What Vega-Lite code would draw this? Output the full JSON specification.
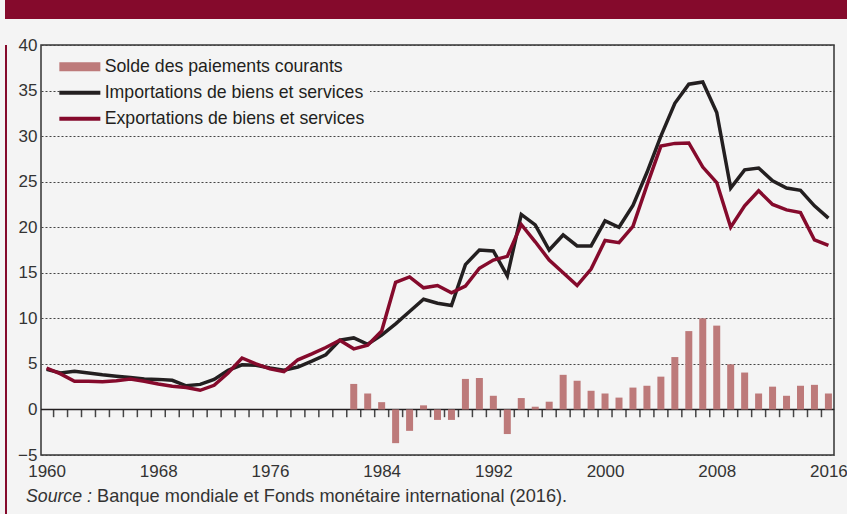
{
 "$schema": "https://vega.github.io/schema/vega-lite/v6.json",
 "background": "#f4f4f4",
 "padding": {"left": 5, "top": 0, "right": 0, "bottom": 0},
 "spacing": 0,
 "config": {"view": {"stroke": null}, "font": "Liberation Sans"},
 "datasets": {
  "imp": [
   {"year":1960,"value":4.4},{"year":1961,"value":4.0},{"year":1962,"value":4.2},{"year":1963,"value":4.0},{"year":1964,"value":3.8},
   {"year":1965,"value":3.65},{"year":1966,"value":3.5},{"year":1967,"value":3.35},{"year":1968,"value":3.3},{"year":1969,"value":3.2},
   {"year":1970,"value":2.6},{"year":1971,"value":2.75},{"year":1972,"value":3.3},{"year":1973,"value":4.3},{"year":1974,"value":4.9},
   {"year":1975,"value":4.85},{"year":1976,"value":4.55},{"year":1977,"value":4.3},{"year":1978,"value":4.65},{"year":1979,"value":5.3},
   {"year":1980,"value":6.0},{"year":1981,"value":7.6},{"year":1982,"value":7.85},{"year":1983,"value":7.15},{"year":1984,"value":8.15},
   {"year":1985,"value":9.4},{"year":1986,"value":10.75},{"year":1987,"value":12.1},{"year":1988,"value":11.65},{"year":1989,"value":11.4},
   {"year":1990,"value":15.9},{"year":1991,"value":17.5},{"year":1992,"value":17.4},{"year":1993,"value":14.65},{"year":1994,"value":21.4},
   {"year":1995,"value":20.25},{"year":1996,"value":17.5},{"year":1997,"value":19.15},{"year":1998,"value":17.95},{"year":1999,"value":17.95},
   {"year":2000,"value":20.7},{"year":2001,"value":20.0},{"year":2002,"value":22.4},{"year":2003,"value":26.0},{"year":2004,"value":30.0},
   {"year":2005,"value":33.6},{"year":2006,"value":35.7},{"year":2007,"value":35.95},{"year":2008,"value":32.6},{"year":2009,"value":24.3},
   {"year":2010,"value":26.3},{"year":2011,"value":26.5},{"year":2012,"value":25.1},{"year":2013,"value":24.3},{"year":2014,"value":24.05},
   {"year":2015,"value":22.35},{"year":2016,"value":21.0}
  ],
  "exp": [
   {"year":1960,"value":4.55},{"year":1961,"value":3.9},{"year":1962,"value":3.1},{"year":1963,"value":3.1},{"year":1964,"value":3.05},
   {"year":1965,"value":3.15},{"year":1966,"value":3.35},{"year":1967,"value":3.1},{"year":1968,"value":2.8},{"year":1969,"value":2.55},
   {"year":1970,"value":2.4},{"year":1971,"value":2.1},{"year":1972,"value":2.65},{"year":1973,"value":4.0},{"year":1974,"value":5.65},
   {"year":1975,"value":5.0},{"year":1976,"value":4.45},{"year":1977,"value":4.15},{"year":1978,"value":5.45},{"year":1979,"value":6.1},
   {"year":1980,"value":6.8},{"year":1981,"value":7.6},{"year":1982,"value":6.65},{"year":1983,"value":7.05},{"year":1984,"value":8.6},
   {"year":1985,"value":13.95},{"year":1986,"value":14.55},{"year":1987,"value":13.35},{"year":1988,"value":13.6},{"year":1989,"value":12.8},
   {"year":1990,"value":13.55},{"year":1991,"value":15.5},{"year":1992,"value":16.4},{"year":1993,"value":16.8},{"year":1994,"value":20.3},
   {"year":1995,"value":18.4},{"year":1996,"value":16.4},{"year":1997,"value":15.0},{"year":1998,"value":13.6},{"year":1999,"value":15.4},
   {"year":2000,"value":18.55},{"year":2001,"value":18.3},{"year":2002,"value":20.1},{"year":2003,"value":24.6},{"year":2004,"value":28.9},
   {"year":2005,"value":29.2},{"year":2006,"value":29.25},{"year":2007,"value":26.6},{"year":2008,"value":24.9},{"year":2009,"value":20.0},
   {"year":2010,"value":22.35},{"year":2011,"value":24.0},{"year":2012,"value":22.5},{"year":2013,"value":21.9},{"year":2014,"value":21.6},
   {"year":2015,"value":18.6},{"year":2016,"value":18.0}
  ],
  "solde": [
   {"year":1982,"value":2.8},{"year":1983,"value":1.75},{"year":1984,"value":0.8},{"year":1985,"value":-3.7},{"year":1986,"value":-2.35},
   {"year":1987,"value":0.45},{"year":1988,"value":-1.15},{"year":1989,"value":-1.15},{"year":1990,"value":3.35},{"year":1991,"value":3.45},
   {"year":1992,"value":1.5},{"year":1993,"value":-2.7},{"year":1994,"value":1.25},{"year":1995,"value":0.3},{"year":1996,"value":0.85},
   {"year":1997,"value":3.8},{"year":1998,"value":3.15},{"year":1999,"value":2.05},{"year":2000,"value":1.75},{"year":2001,"value":1.3},
   {"year":2002,"value":2.4},{"year":2003,"value":2.6},{"year":2004,"value":3.6},{"year":2005,"value":5.75},{"year":2006,"value":8.6},
   {"year":2007,"value":10.0},{"year":2008,"value":9.2},{"year":2009,"value":4.95},{"year":2010,"value":4.05},{"year":2011,"value":1.75},
   {"year":2012,"value":2.5},{"year":2013,"value":1.5},{"year":2014,"value":2.6},{"year":2015,"value":2.7},{"year":2016,"value":1.75}
  ]
 },
 "vconcat": [
  {
   "width": 842, "height": 19,
   "view": {"fill": "#850a2c", "stroke": null},
   "data": {"values": [{}]},
   "mark": {"type": "text"},
   "encoding": {"text": {"value": ""}}
  },
  {
   "spacing": 9,
   "hconcat": [
    {
     "width": 2, "height": 495,
     "view": {"fill": "#850a2c", "stroke": null},
     "data": {"values": [{}]},
     "mark": {"type": "text"},
     "encoding": {"text": {"value": ""}}
    },
    {
     "width": 793, "height": 410,
     "title": {"text": " ", "fontSize": 16, "offset": 0},
     "view": {"stroke": "#333", "strokeWidth": 1.5},
     "layer": [
      {
       "data": {"name": "imp"},
       "transform": [{"filter": "datum.year <= 2015"}],
       "mark": {"type": "rule", "xOffset": 7, "color": "#444", "strokeWidth": 1.5},
       "encoding": {
        "x": {"field": "year", "type": "quantitative", "title": null,
              "scale": {"domain": [1959.6, 2016.4], "nice": false, "zero": false, "padding": 0},
              "axis": {"values": [1960,1968,1976,1984,1992,2000,2008,2016], "format": "d", "ticks": false, "domain": false, "grid": false,
                       "labelFontSize": 17, "labelColor": "#333", "labelPadding": 8, "labelFlush": false}},
        "y": {"datum": 0, "type": "quantitative", "title": null,
              "scale": {"domain": [-5, 40], "nice": false},
              "axis": {"values": [-5,0,5,10,15,20,25,30,35,40], "grid": true, "gridDash": [2,2], "gridColor": "#444", "gridWidth": 1,
                       "ticks": false, "domain": false, "labelFontSize": 17, "labelColor": "#333", "labelPadding": 4}},
        "y2": {"datum": -0.85}
       }
      },
      {
       "data": {"values": [{}]},
       "mark": {"type": "rule", "color": "#231f20", "strokeWidth": 1.5},
       "encoding": {"y": {"datum": 0, "type": "quantitative", "title": null}}
      },
      {
       "data": {"name": "solde"},
       "transform": [{"calculate": "'Solde des paiements courants'", "as": "series"}],
       "mark": {"type": "bar", "size": 7},
       "encoding": {
        "x": {"field": "year", "type": "quantitative", "title": null},
        "y": {"field": "value", "type": "quantitative", "title": null},
        "color": {"field": "series", "type": "nominal",
         "scale": {"domain": ["Solde des paiements courants", "Importations de biens et services", "Exportations de biens et services"],
                   "range": ["#bd7a7a", "#231f20", "#850a2c"]},
         "legend": {"title": null, "orient": "none", "legendX": 61, "legendY": 53,
                    "symbolType": "stroke", "symbolSize": 1681, "symbolStrokeWidth": 4,
                    "labelFontSize": 17.7, "labelColor": "#231f20", "labelFont": "Liberation Sans", "labelOffset": 16, "labelLimit": 400,
                    "rowPadding": 7, "padding": 5, "fillColor": "#f4f4f4",
                    "encode": {"symbols": {"update": {
                      "shape": {"signal": "datum.value == 'Solde des paiements courants' ? 'M-1,-0.22H1V0.22H-1Z' : 'stroke'"},
                      "stroke": {"signal": "datum.value == 'Solde des paiements courants' ? 'transparent' : (datum.value == 'Importations de biens et services' ? '#231f20' : '#850a2c')"},
                      "strokeWidth": {"signal": "datum.value == 'Solde des paiements courants' ? 0 : 4"},
                      "fill": {"signal": "datum.value == 'Solde des paiements courants' ? '#bd7a7a' : 'transparent'"},
                      "opacity": {"value": 1}}}}}
        }
       }
      },
      {
       "data": {"name": "imp"},
       "transform": [{"calculate": "'Importations de biens et services'", "as": "series"}],
       "mark": {"type": "line", "strokeWidth": 3.5},
       "encoding": {
        "x": {"field": "year", "type": "quantitative", "title": null},
        "y": {"field": "value", "type": "quantitative", "title": null},
        "color": {"field": "series", "type": "nominal"}
       }
      },
      {
       "data": {"name": "exp"},
       "transform": [{"calculate": "'Exportations de biens et services'", "as": "series"}],
       "mark": {"type": "line", "strokeWidth": 3.5},
       "encoding": {
        "x": {"field": "year", "type": "quantitative", "title": null},
        "y": {"field": "value", "type": "quantitative", "title": null},
        "color": {"field": "series", "type": "nominal"}
       }
      },
      {
       "data": {"values": [{}]},
       "mark": {"type": "text", "align": "left", "baseline": "middle", "dx": -15, "dy": 42, "fontSize": 17.7, "fontStyle": "italic", "color": "#333"},
       "encoding": {"x": {"datum": 1959.6, "type": "quantitative"}, "y": {"datum": -5, "type": "quantitative"}, "text": {"value": "Source :"}}
      },
      {
       "data": {"values": [{}]},
       "mark": {"type": "text", "align": "left", "baseline": "middle", "dx": 56, "dy": 42, "fontSize": 18.2, "color": "#333"},
       "encoding": {"x": {"datum": 1959.6, "type": "quantitative"}, "y": {"datum": -5, "type": "quantitative"}, "text": {"value": "Banque mondiale et Fonds monétaire international (2016)."}}
      }
     ]
    }
   ]
  }
 ]
}
